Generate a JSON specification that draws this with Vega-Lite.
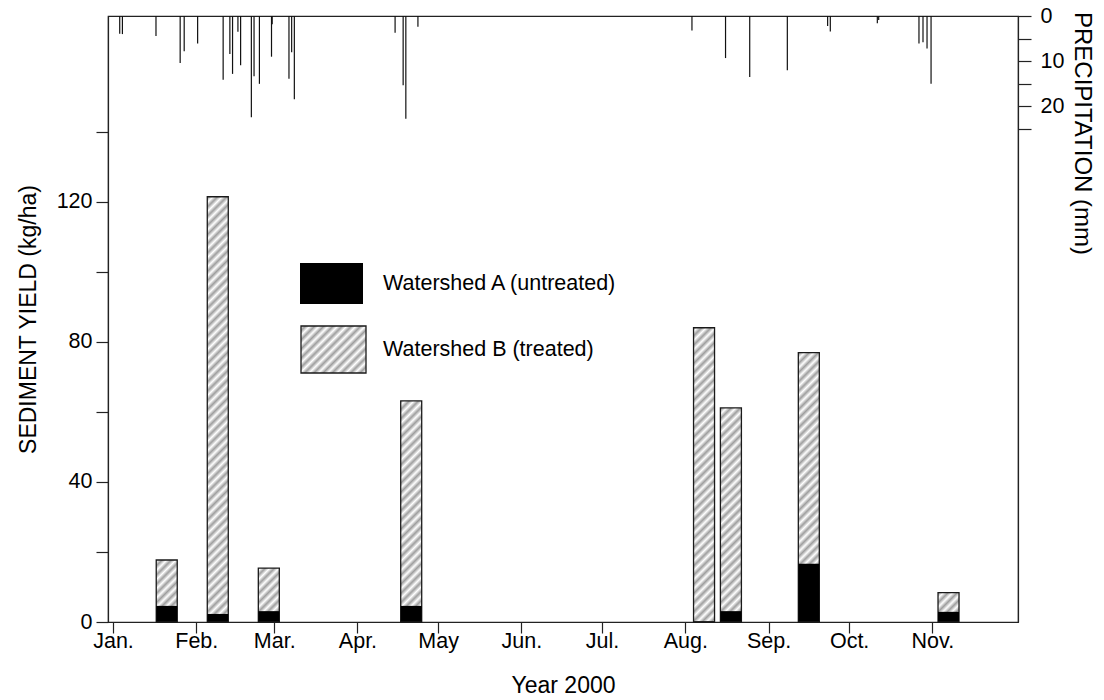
{
  "$schema": "https://vega.github.io/schema/vega-lite/v6.json",
  "width": 910,
  "height": 606,
  "autosize": {"type": "none"},
  "padding": {"left": 108, "top": 16, "right": 86, "bottom": 78},
  "datasets": {
    "sed": [
      {"date": "2000-01-21", "A": 4.6, "B": 17.7},
      {"date": "2000-02-09", "A": 2.3, "B": 121.4},
      {"date": "2000-02-28", "A": 3.1, "B": 15.4},
      {"date": "2000-04-21", "A": 4.6, "B": 63.1},
      {"date": "2000-08-08", "A": 0, "B": 84.0},
      {"date": "2000-08-18", "A": 3.1, "B": 61.1},
      {"date": "2000-09-16", "A": 16.6, "B": 76.9},
      {"date": "2000-11-07", "A": 2.9, "B": 8.4}
    ],
    "rain": [
      {"date": "2000-01-03T12:00:00Z", "p": 3.9},
      {"date": "2000-01-04T12:00:00Z", "p": 4.0},
      {"date": "2000-01-17T00:00:00Z", "p": 4.4},
      {"date": "2000-01-26T00:00:00Z", "p": 10.4},
      {"date": "2000-01-27T12:00:00Z", "p": 7.8},
      {"date": "2000-02-01T12:00:00Z", "p": 6.1},
      {"date": "2000-02-11T00:00:00Z", "p": 14.1},
      {"date": "2000-02-13T12:00:00Z", "p": 8.4},
      {"date": "2000-02-14T12:00:00Z", "p": 12.8},
      {"date": "2000-02-16T12:00:00Z", "p": 3.5},
      {"date": "2000-02-17T12:00:00Z", "p": 10.9},
      {"date": "2000-02-21T12:00:00Z", "p": 22.4},
      {"date": "2000-02-22T12:00:00Z", "p": 13.3},
      {"date": "2000-02-24T12:00:00Z", "p": 15.0},
      {"date": "2000-02-29T00:00:00Z", "p": 9.0},
      {"date": "2000-02-29T06:00:00Z", "p": 1.8},
      {"date": "2000-03-06T12:00:00Z", "p": 13.9},
      {"date": "2000-03-07T12:00:00Z", "p": 8.0},
      {"date": "2000-03-08T12:00:00Z", "p": 18.4},
      {"date": "2000-04-15T00:00:00Z", "p": 3.7},
      {"date": "2000-04-18T00:00:00Z", "p": 15.3},
      {"date": "2000-04-19T00:00:00Z", "p": 22.7},
      {"date": "2000-04-23T12:00:00Z", "p": 2.4},
      {"date": "2000-08-03T12:00:00Z", "p": 3.2},
      {"date": "2000-08-16T00:00:00Z", "p": 9.3},
      {"date": "2000-08-25T00:00:00Z", "p": 13.5},
      {"date": "2000-09-08T00:00:00Z", "p": 12.0},
      {"date": "2000-09-23T00:00:00Z", "p": 2.2},
      {"date": "2000-09-24T00:00:00Z", "p": 3.4},
      {"date": "2000-10-11T12:00:00Z", "p": 1.6},
      {"date": "2000-10-12T00:00:00Z", "p": 0.9},
      {"date": "2000-10-27T00:00:00Z", "p": 6.1},
      {"date": "2000-10-28T12:00:00Z", "p": 5.8},
      {"date": "2000-10-30T00:00:00Z", "p": 7.2},
      {"date": "2000-10-31T12:00:00Z", "p": 15.0}
    ]
  },
  "layer": [
    {
      "data": {"name": "sed"},
      "layer": [
        {
          "mark": {
            "type": "bar",
            "size": 21,
            "strokeWidth": 0,
            "fill": {
              "gradient": "linear",
              "x1": 0, "y1": 0, "x2": 0.0503, "y2": 1.0482,
              "stops": [
                {"offset": 0, "color": "#fff"}, {"offset": 0.01, "color": "#9e9e9e"}, {"offset": 0.02, "color": "#fff"}, {"offset": 0.03, "color": "#9e9e9e"}, {"offset": 0.04, "color": "#fff"}, {"offset": 0.05, "color": "#9e9e9e"}, {"offset": 0.06, "color": "#fff"}, {"offset": 0.07, "color": "#9e9e9e"}, {"offset": 0.08, "color": "#fff"}, {"offset": 0.09, "color": "#9e9e9e"},
                {"offset": 0.10, "color": "#fff"}, {"offset": 0.11, "color": "#9e9e9e"}, {"offset": 0.12, "color": "#fff"}, {"offset": 0.13, "color": "#9e9e9e"}, {"offset": 0.14, "color": "#fff"}, {"offset": 0.15, "color": "#9e9e9e"}, {"offset": 0.16, "color": "#fff"}, {"offset": 0.17, "color": "#9e9e9e"}, {"offset": 0.18, "color": "#fff"}, {"offset": 0.19, "color": "#9e9e9e"},
                {"offset": 0.20, "color": "#fff"}, {"offset": 0.21, "color": "#9e9e9e"}, {"offset": 0.22, "color": "#fff"}, {"offset": 0.23, "color": "#9e9e9e"}, {"offset": 0.24, "color": "#fff"}, {"offset": 0.25, "color": "#9e9e9e"}, {"offset": 0.26, "color": "#fff"}, {"offset": 0.27, "color": "#9e9e9e"}, {"offset": 0.28, "color": "#fff"}, {"offset": 0.29, "color": "#9e9e9e"},
                {"offset": 0.30, "color": "#fff"}, {"offset": 0.31, "color": "#9e9e9e"}, {"offset": 0.32, "color": "#fff"}, {"offset": 0.33, "color": "#9e9e9e"}, {"offset": 0.34, "color": "#fff"}, {"offset": 0.35, "color": "#9e9e9e"}, {"offset": 0.36, "color": "#fff"}, {"offset": 0.37, "color": "#9e9e9e"}, {"offset": 0.38, "color": "#fff"}, {"offset": 0.39, "color": "#9e9e9e"},
                {"offset": 0.40, "color": "#fff"}, {"offset": 0.41, "color": "#9e9e9e"}, {"offset": 0.42, "color": "#fff"}, {"offset": 0.43, "color": "#9e9e9e"}, {"offset": 0.44, "color": "#fff"}, {"offset": 0.45, "color": "#9e9e9e"}, {"offset": 0.46, "color": "#fff"}, {"offset": 0.47, "color": "#9e9e9e"}, {"offset": 0.48, "color": "#fff"}, {"offset": 0.49, "color": "#9e9e9e"},
                {"offset": 0.50, "color": "#fff"}, {"offset": 0.51, "color": "#9e9e9e"}, {"offset": 0.52, "color": "#fff"}, {"offset": 0.53, "color": "#9e9e9e"}, {"offset": 0.54, "color": "#fff"}, {"offset": 0.55, "color": "#9e9e9e"}, {"offset": 0.56, "color": "#fff"}, {"offset": 0.57, "color": "#9e9e9e"}, {"offset": 0.58, "color": "#fff"}, {"offset": 0.59, "color": "#9e9e9e"},
                {"offset": 0.60, "color": "#fff"}, {"offset": 0.61, "color": "#9e9e9e"}, {"offset": 0.62, "color": "#fff"}, {"offset": 0.63, "color": "#9e9e9e"}, {"offset": 0.64, "color": "#fff"}, {"offset": 0.65, "color": "#9e9e9e"}, {"offset": 0.66, "color": "#fff"}, {"offset": 0.67, "color": "#9e9e9e"}, {"offset": 0.68, "color": "#fff"}, {"offset": 0.69, "color": "#9e9e9e"},
                {"offset": 0.70, "color": "#fff"}, {"offset": 0.71, "color": "#9e9e9e"}, {"offset": 0.72, "color": "#fff"}, {"offset": 0.73, "color": "#9e9e9e"}, {"offset": 0.74, "color": "#fff"}, {"offset": 0.75, "color": "#9e9e9e"}, {"offset": 0.76, "color": "#fff"}, {"offset": 0.77, "color": "#9e9e9e"}, {"offset": 0.78, "color": "#fff"}, {"offset": 0.79, "color": "#9e9e9e"},
                {"offset": 0.80, "color": "#fff"}, {"offset": 0.81, "color": "#9e9e9e"}, {"offset": 0.82, "color": "#fff"}, {"offset": 0.83, "color": "#9e9e9e"}, {"offset": 0.84, "color": "#fff"}, {"offset": 0.85, "color": "#9e9e9e"}, {"offset": 0.86, "color": "#fff"}, {"offset": 0.87, "color": "#9e9e9e"}, {"offset": 0.88, "color": "#fff"}, {"offset": 0.89, "color": "#9e9e9e"},
                {"offset": 0.90, "color": "#fff"}, {"offset": 0.91, "color": "#9e9e9e"}, {"offset": 0.92, "color": "#fff"}, {"offset": 0.93, "color": "#9e9e9e"}, {"offset": 0.94, "color": "#fff"}, {"offset": 0.95, "color": "#9e9e9e"}, {"offset": 0.96, "color": "#fff"}, {"offset": 0.97, "color": "#9e9e9e"}, {"offset": 0.98, "color": "#fff"}, {"offset": 0.99, "color": "#9e9e9e"},
                {"offset": 1, "color": "#fff"}
              ]
            }
          },
          "encoding": {
            "x": {
              "field": "date",
              "type": "temporal",
              "title": "Year 2000",
              "scale": {
                "type": "utc",
                "domain": [
                  {"year": 2000, "month": 1, "date": 1, "utc": true},
                  {"year": 2000, "month": 12, "date": 1, "utc": true}
                ]
              },
              "axis": {
                "orient": "bottom",
                "values": [
                  {"year": 2000, "month": 1, "date": 1, "utc": true},
                  {"year": 2000, "month": 2, "date": 1, "utc": true},
                  {"year": 2000, "month": 3, "date": 1, "utc": true},
                  {"year": 2000, "month": 4, "date": 1, "utc": true},
                  {"year": 2000, "month": 5, "date": 1, "utc": true},
                  {"year": 2000, "month": 6, "date": 1, "utc": true},
                  {"year": 2000, "month": 7, "date": 1, "utc": true},
                  {"year": 2000, "month": 8, "date": 1, "utc": true},
                  {"year": 2000, "month": 9, "date": 1, "utc": true},
                  {"year": 2000, "month": 10, "date": 1, "utc": true},
                  {"year": 2000, "month": 11, "date": 1, "utc": true}
                ],
                "labelExpr": "utcFormat(datum.value, '%b') === 'May' ? 'May' : utcFormat(datum.value, '%b') + '.'",
                "tickSize": 11,
                "labelPadding": -3,
                "titlePadding": 23,
                "labelAlign": "center",
                "labelFlush": false,
                "labelOverlap": false
              }
            },
            "y": {
              "datum": 125,
              "type": "quantitative",
              "title": "SEDIMENT YIELD (kg/ha)",
              "scale": {"domain": [0, 173], "nice": false, "zero": true},
              "axis": {
                "orient": "left",
                "values": [0, 20, 40, 60, 80, 100, 120, 140],
                "labelExpr": "datum.value % 40 === 0 ? datum.label : ''",
                "tickSize": 12,
                "labelPadding": 4,
                "titlePadding": 16
              }
            },
            "y2": {"datum": 0}
          }
        },
        {
          "mark": {"type": "bar", "size": 23, "fill": "#ffffff", "strokeWidth": 0},
          "encoding": {
            "x": {"field": "date", "type": "temporal", "title": "Year 2000"},
            "y": {"field": "B", "type": "quantitative", "title": "SEDIMENT YIELD (kg/ha)", "stack": null},
            "y2": {"datum": 126}
          }
        },
        {
          "mark": {"type": "bar", "size": 21, "fill": "transparent", "stroke": "#1a1a1a", "strokeWidth": 1.3},
          "encoding": {
            "x": {"field": "date", "type": "temporal", "title": "Year 2000"},
            "y": {"field": "B", "type": "quantitative", "title": "SEDIMENT YIELD (kg/ha)", "stack": null},
            "y2": {"datum": 0}
          }
        },
        {
          "mark": {"type": "bar", "size": 21, "strokeWidth": 0},
          "encoding": {
            "x": {"field": "date", "type": "temporal", "title": "Year 2000"},
            "y": {"field": "A", "type": "quantitative", "title": "SEDIMENT YIELD (kg/ha)", "stack": null},
            "y2": {"datum": 0},
            "fill": {
              "datum": "Watershed A (untreated)",
              "type": "nominal",
              "scale": {"range": ["#000000"]},
              "legend": {
                "orient": "none",
                "legendX": 192,
                "legendY": 236,
                "padding": 0,
                "title": null,
                "symbolType": "M-1,-0.651L1,-0.651L1,0.651L-1,0.651Z",
                "symbolSize": 3969,
                "symbolStrokeWidth": 0,
                "labelFontSize": 21.5,
                "labelOffset": 20,
                "labelLimit": 400,
                "labelColor": "#000000",
                "labelFont": "Liberation Sans"
              }
            }
          }
        },
        {
          "mark": {
            "type": "bar",
            "size": 21,
            "strokeWidth": 1.3,
            "fill": {
              "gradient": "linear",
              "x1": 0, "y1": 0, "x2": 4.6472, "y2": 3.3603,
              "stops": [
                {"offset": 0, "color": "#fff"}, {"offset": 0.01, "color": "#9e9e9e"}, {"offset": 0.02, "color": "#fff"}, {"offset": 0.03, "color": "#9e9e9e"}, {"offset": 0.04, "color": "#fff"}, {"offset": 0.05, "color": "#9e9e9e"}, {"offset": 0.06, "color": "#fff"}, {"offset": 0.07, "color": "#9e9e9e"}, {"offset": 0.08, "color": "#fff"}, {"offset": 0.09, "color": "#9e9e9e"},
                {"offset": 0.10, "color": "#fff"}, {"offset": 0.11, "color": "#9e9e9e"}, {"offset": 0.12, "color": "#fff"}, {"offset": 0.13, "color": "#9e9e9e"}, {"offset": 0.14, "color": "#fff"}, {"offset": 0.15, "color": "#9e9e9e"}, {"offset": 0.16, "color": "#fff"}, {"offset": 0.17, "color": "#9e9e9e"}, {"offset": 0.18, "color": "#fff"}, {"offset": 0.19, "color": "#9e9e9e"},
                {"offset": 0.20, "color": "#fff"}, {"offset": 0.21, "color": "#9e9e9e"}, {"offset": 0.22, "color": "#fff"}, {"offset": 0.23, "color": "#9e9e9e"}, {"offset": 0.24, "color": "#fff"}, {"offset": 0.25, "color": "#9e9e9e"}, {"offset": 0.26, "color": "#fff"},
                {"offset": 1, "color": "#fff"}
              ]
            }
          },
          "encoding": {
            "x": {"field": "date", "type": "temporal", "title": "Year 2000"},
            "y": {"datum": 0, "type": "quantitative", "title": "SEDIMENT YIELD (kg/ha)"},
            "y2": {"datum": 0},
            "stroke": {
              "datum": "Watershed B (treated)",
              "type": "nominal",
              "scale": {"range": ["#1a1a1a"]},
              "legend": {
                "orient": "none",
                "legendX": 192,
                "legendY": 300,
                "padding": 0,
                "title": null,
                "symbolType": "M-1,-0.723L1,-0.723L1,0.723L-1,0.723Z",
                "symbolSize": 4225,
                "symbolStrokeWidth": 1.3,
                "labelFontSize": 21.5,
                "labelOffset": 16,
                "labelLimit": 400,
                "labelColor": "#000000",
                "labelFont": "Liberation Sans"
              }
            }
          }
        }
      ]
    },
    {
      "data": {"name": "rain"},
      "mark": {"type": "rule", "color": "#111111", "strokeWidth": 1.2},
      "encoding": {
        "x": {"field": "date", "type": "temporal", "title": "Year 2000"},
        "y": {
          "field": "p",
          "type": "quantitative",
          "title": "PRECIPITATION (mm)",
          "scale": {"domain": [0, 134], "reverse": true, "nice": false, "zero": true},
          "axis": {
            "orient": "right",
            "values": [0, 5, 10, 15, 20, 25],
            "labelExpr": "datum.value % 10 === 0 ? datum.label : ''",
            "tickSize": 13,
            "labelPadding": 9,
            "titleAngle": 90,
            "titlePadding": 6,
            "titleFontSize": 24,
            "titleY": 117
          }
        },
        "y2": {"datum": 0}
      }
    }
  ],
  "resolve": {"scale": {"y": "independent"}},
  "config": {
    "font": "Liberation Sans",
    "background": "#ffffff",
    "view": {"stroke": "#222222", "strokeWidth": 1.2},
    "axis": {
      "grid": false,
      "zindex": 1,
      "labelFont": "Liberation Sans",
      "titleFont": "Liberation Sans",
      "labelFontSize": 21.5,
      "titleFontSize": 23,
      "titleFontWeight": "normal",
      "labelColor": "#000000",
      "titleColor": "#000000",
      "tickColor": "#222222",
      "domainColor": "#222222",
      "tickWidth": 1.2,
      "domainWidth": 1.2
    }
  }
}
